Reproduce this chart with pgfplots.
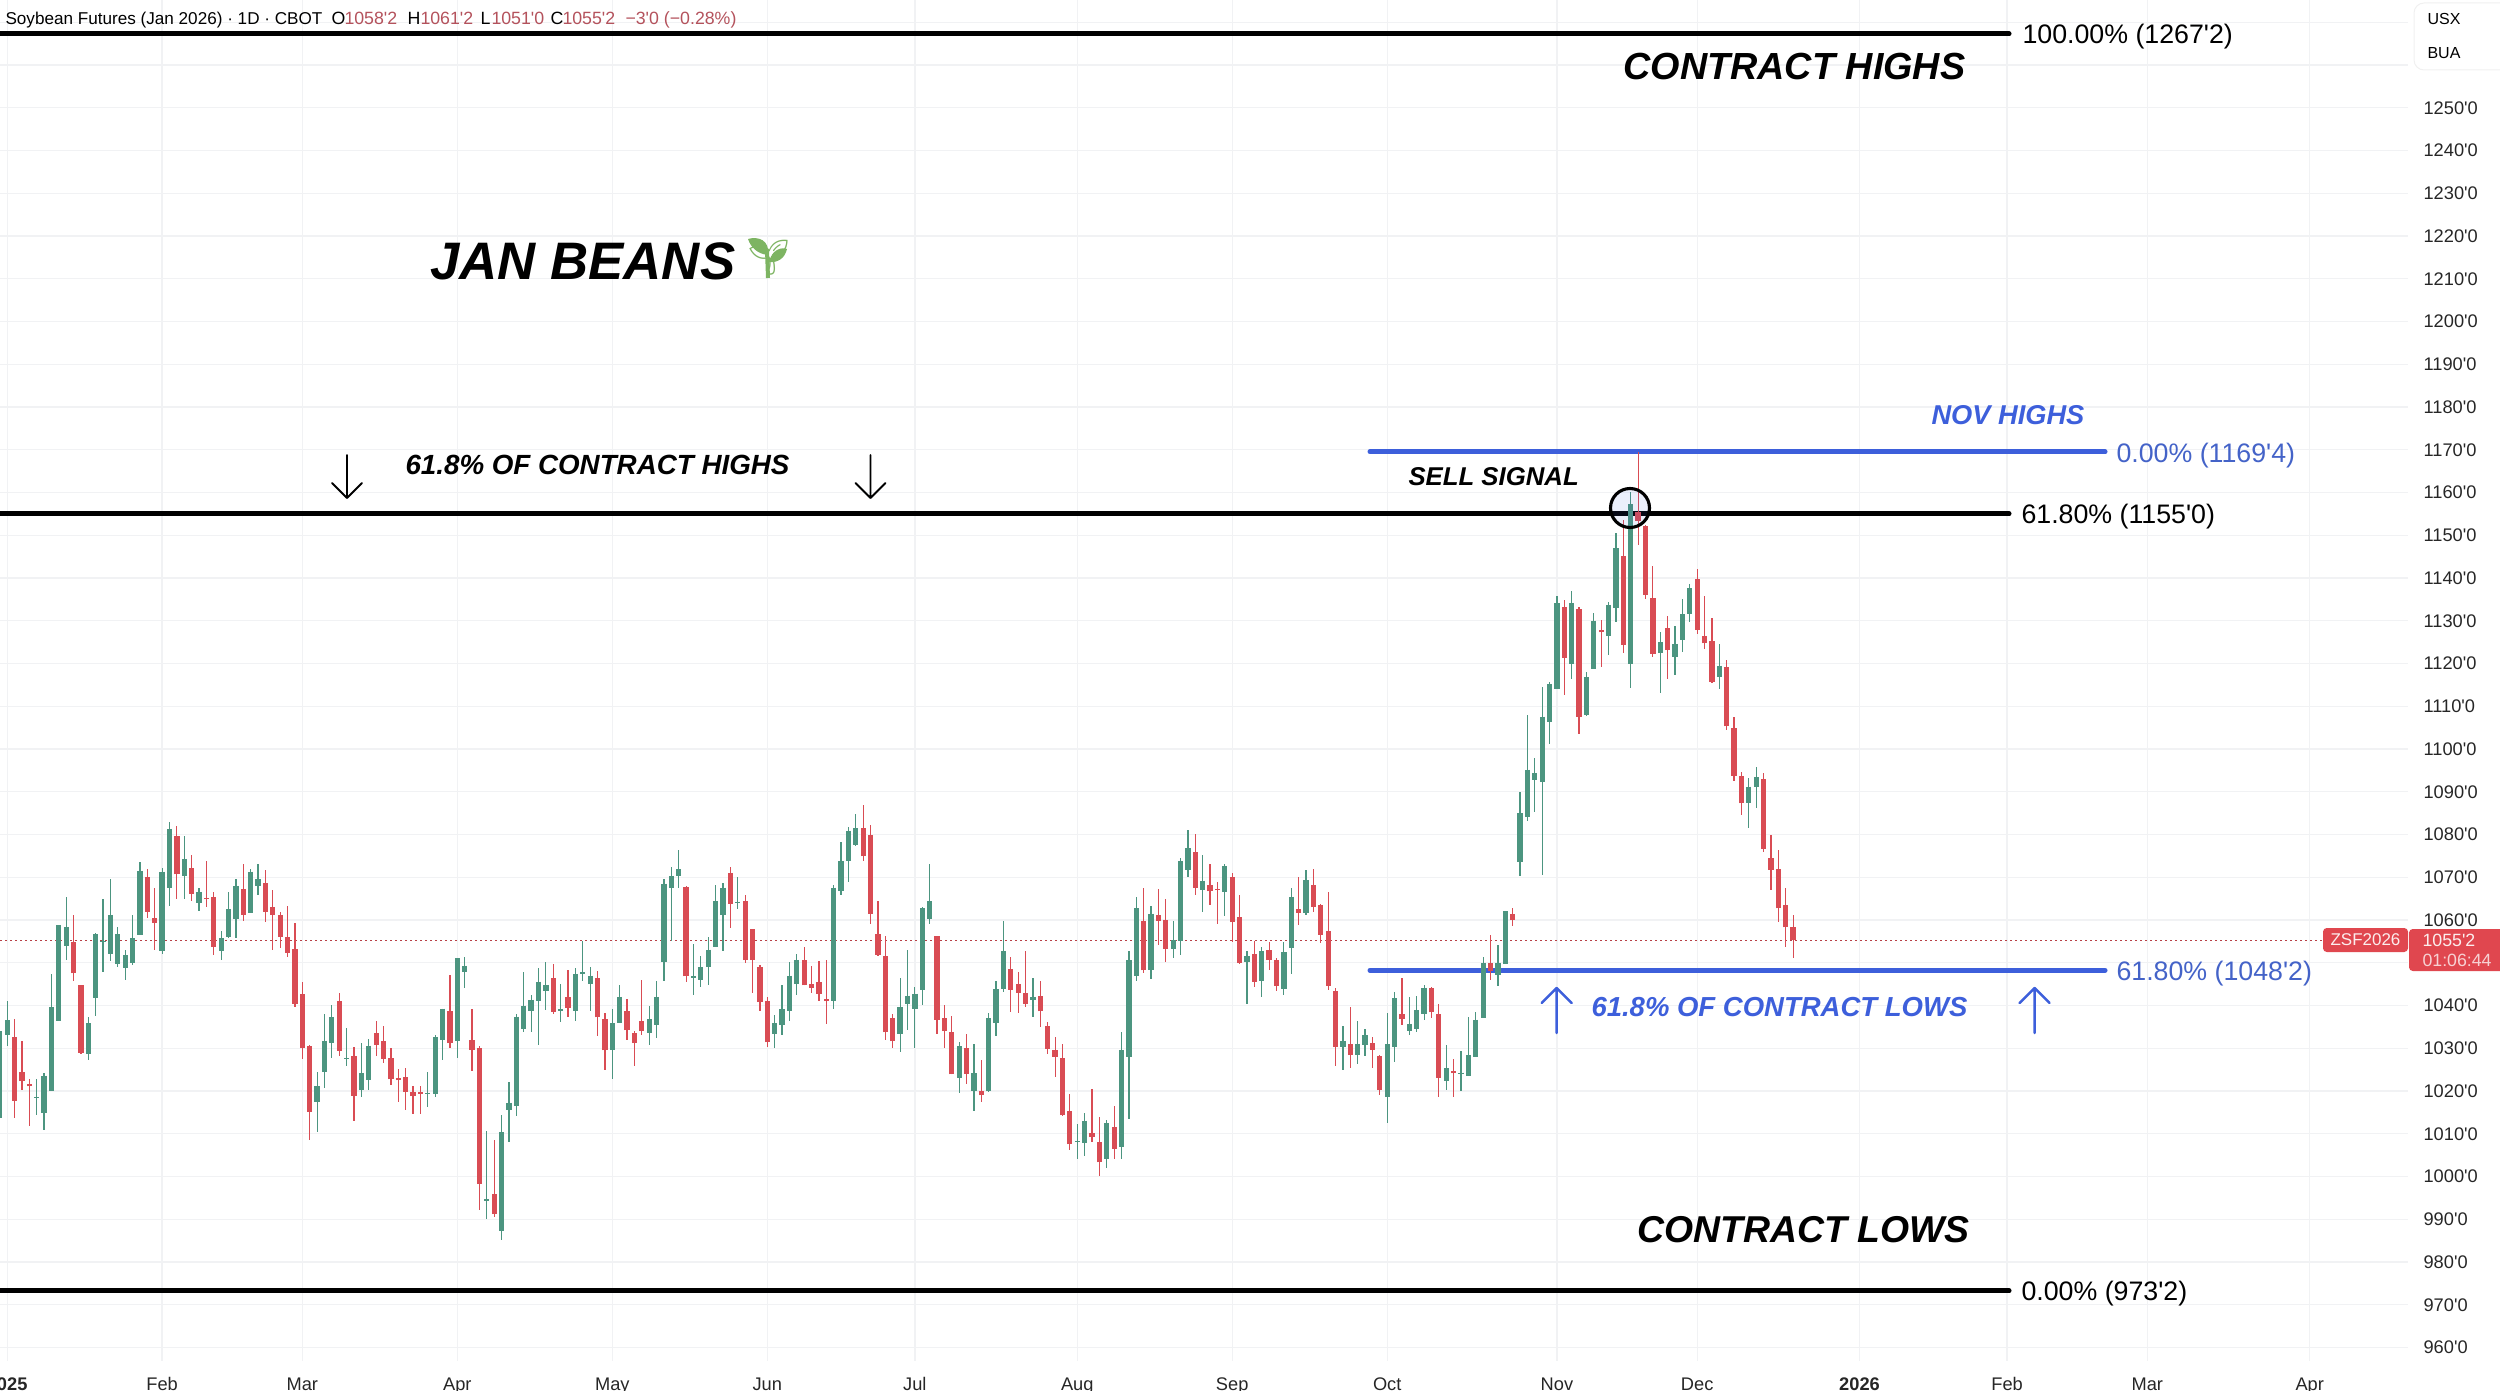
\documentclass[border=0pt]{standalone}
\usepackage{fontspec}
\usepackage{pgfplots}
\usepackage{pgfplotstable}
\pgfplotsset{compat=1.18}
\setmainfont{Liberation Sans}[Ligatures=TeXOff]
\newfontfamily\emoji{Noto Emoji}
\definecolor{cgreen}{HTML}{4C9580}
\definecolor{cred}{HTML}{D94C54}
\definecolor{cblue}{HTML}{3D5FDB}
\definecolor{cbluet}{HTML}{4463C8}
\definecolor{cgrid}{HTML}{F1F2F4}
\definecolor{chead}{HTML}{B4525C}
\definecolor{ctag}{HTML}{E0474F}
\definecolor{csprout}{HTML}{7DB462}
\pgfplotstableread{
i o h l c
1 1013.8 1034.3 1013.7 1034.0
2 1033.2 1041.0 1030.6 1036.5
6 1018.3 1022.7 1014.5 1018.5
7 1014.8 1024.1 1010.8 1023.6
8 1019.9 1047.4 1019.9 1039.7
9 1036.3 1058.8 1036.3 1058.8
10 1053.9 1065.4 1050.7 1058.4
13 1028.6 1037.3 1027.3 1035.8
14 1041.8 1057.0 1037.5 1056.7
15 1054.8 1065.0 1047.9 1055.0
16 1052.0 1069.6 1050.3 1061.2
17 1049.7 1058.4 1048.9 1056.7
18 1048.8 1053.1 1046.0 1051.7
19 1050.0 1061.2 1049.4 1055.7
20 1056.5 1073.5 1056.5 1071.5
23 1052.8 1072.2 1052.0 1071.3
24 1067.6 1082.9 1063.2 1081.3
26 1070.4 1079.6 1064.9 1074.3
28 1063.9 1067.6 1062.1 1066.6
31 1052.8 1057.5 1050.7 1055.7
32 1056.0 1066.6 1055.8 1062.6
33 1060.2 1069.6 1055.9 1068.0
35 1061.6 1071.9 1061.6 1071.3
36 1068.0 1073.2 1065.8 1069.5
44 1017.5 1024.5 1010.4 1021.1
45 1024.4 1038.1 1020.6 1031.8
46 1031.2 1040.2 1027.7 1037.3
48 1027.5 1034.7 1025.8 1027.7
50 1020.2 1031.2 1018.5 1024.1
51 1022.5 1032.2 1020.3 1030.6
59 1019.2 1024.5 1016.2 1019.6
60 1019.4 1033.1 1018.6 1032.6
61 1031.9 1039.3 1027.3 1039.3
63 1031.8 1051.1 1027.7 1051.1
64 1047.8 1051.3 1044.2 1049.3
67 994.2 1010.6 990.1 994.8
69 987.2 1014.5 985.1 1010.3
70 1015.6 1022.0 1008.1 1017.3
71 1016.6 1038.0 1014.1 1037.4
72 1034.4 1047.8 1033.8 1040.0
73 1038.6 1042.5 1033.8 1041.4
74 1041.0 1048.8 1030.8 1045.6
75 1043.3 1050.2 1039.0 1044.8
77 1038.6 1045.1 1036.2 1039.1
79 1038.6 1048.8 1036.4 1047.4
80 1047.4 1055.0 1045.7 1047.8
81 1045.1 1048.9 1038.8 1047.0
84 1029.5 1039.3 1022.8 1035.8
85 1035.9 1044.7 1035.9 1042.0
89 1033.5 1040.0 1030.8 1036.8
90 1035.5 1045.7 1032.4 1042.0
91 1050.1 1069.7 1045.8 1068.5
92 1067.5 1072.5 1055.0 1070.3
93 1070.2 1076.3 1067.6 1071.9
95 1046.5 1054.5 1042.5 1046.9
96 1046.0 1051.5 1044.3 1049.0
97 1048.9 1056.0 1044.9 1053.1
98 1053.8 1068.2 1053.8 1064.5
99 1061.1 1068.6 1052.7 1067.6
101 1063.9 1070.0 1062.6 1064.3
106 1033.4 1037.8 1030.1 1035.8
107 1035.4 1044.8 1033.2 1039.1
108 1038.6 1050.1 1036.4 1047.0
109 1045.0 1052.0 1042.5 1050.7
114 1041.0 1068.1 1039.2 1067.6
115 1066.9 1078.3 1065.8 1073.7
116 1073.7 1081.7 1069.0 1080.9
117 1077.6 1084.8 1077.4 1081.5
123 1033.3 1046.5 1029.1 1039.7
124 1040.4 1053.1 1034.2 1042.3
125 1039.2 1044.3 1030.0 1042.8
126 1043.7 1063.0 1040.2 1062.7
127 1060.2 1073.2 1059.1 1064.4
131 1023.0 1031.5 1019.5 1030.5
133 1019.9 1031.1 1015.3 1024.1
135 1019.9 1038.2 1019.7 1037.0
136 1035.9 1045.7 1032.9 1043.8
137 1043.9 1059.8 1043.2 1052.8
141 1041.3 1046.5 1037.4 1042.0
147 1008.0 1012.4 1004.2 1008.2
148 1007.8 1014.9 1004.7 1013.1
151 1004.0 1013.3 1001.9 1012.5
153 1006.8 1033.8 1004.0 1029.5
154 1028.0 1052.8 1013.4 1050.6
155 1047.0 1065.4 1045.7 1062.7
157 1048.4 1063.2 1046.3 1061.5
160 1053.3 1059.8 1051.1 1055.3
161 1055.2 1074.4 1051.7 1073.7
162 1071.8 1081.0 1070.0 1076.8
164 1067.0 1075.3 1061.8 1069.2
167 1066.5 1073.0 1060.9 1072.6
170 1050.2 1052.7 1040.3 1051.5
172 1045.7 1053.7 1042.1 1052.8
175 1043.9 1054.8 1042.4 1052.5
176 1053.4 1067.6 1047.4 1065.4
178 1061.6 1071.8 1061.2 1069.3
183 1030.3 1035.3 1024.9 1031.7
185 1028.4 1036.3 1026.3 1031.1
186 1030.8 1034.4 1028.2 1033.0
189 1018.7 1038.2 1012.6 1030.9
190 1030.3 1043.2 1026.7 1041.7
192 1034.0 1041.9 1033.2 1035.7
193 1034.5 1042.3 1033.7 1038.9
194 1038.0 1044.9 1036.7 1044.2
197 1022.4 1030.7 1020.2 1025.3
199 1024.2 1029.4 1020.0 1024.3
200 1023.6 1037.2 1023.6 1028.4
201 1027.9 1038.5 1027.9 1036.7
202 1037.1 1051.4 1037.1 1050.0
204 1047.2 1054.1 1044.6 1050.0
205 1049.8 1062.0 1049.8 1062.0
207 1073.6 1089.9 1070.3 1085.0
208 1084.1 1108.0 1083.1 1095.2
209 1092.8 1097.9 1085.2 1094.4
210 1092.3 1114.5 1070.5 1107.6
211 1106.4 1115.7 1101.2 1115.2
212 1114.0 1135.7 1114.0 1134.1
214 1119.9 1137.0 1116.3 1134.1
216 1108.0 1118.1 1107.8 1116.8
217 1118.8 1131.9 1118.6 1130.0
219 1126.4 1134.3 1122.0 1133.7
220 1132.9 1150.5 1129.7 1147.0
222 1119.9 1160.1 1114.2 1157.2
226 1122.4 1127.4 1113.2 1125.0
228 1121.6 1128.7 1117.3 1124.6
229 1125.4 1135.2 1122.8 1131.5
230 1131.5 1138.6 1129.7 1137.6
234 1116.9 1124.5 1114.1 1119.5
238 1087.4 1093.2 1081.5 1091.2
239 1091.0 1095.9 1086.3 1093.4
}\greendata
\pgfplotstableread{
i o h l c
3 1032.6 1036.8 1013.7 1017.7
4 1024.5 1031.8 1020.3 1022.3
5 1021.7 1022.7 1011.8 1021.1
11 1054.9 1061.2 1045.7 1047.5
12 1044.7 1044.7 1028.7 1029.0
21 1070.1 1071.9 1060.5 1061.9
22 1060.5 1067.6 1053.1 1059.4
25 1079.7 1082.1 1064.9 1070.7
27 1072.2 1075.3 1064.4 1066.2
29 1065.2 1073.7 1063.1 1064.9
30 1065.4 1066.5 1051.7 1053.8
34 1067.3 1073.2 1059.8 1061.2
37 1068.7 1071.8 1059.5 1061.9
38 1063.1 1067.1 1052.9 1061.2
39 1061.2 1061.8 1053.5 1056.0
40 1056.1 1063.2 1051.3 1052.3
41 1053.3 1059.3 1039.6 1040.4
42 1042.8 1045.6 1027.5 1030.0
43 1030.5 1030.7 1008.5 1015.2
47 1041.0 1042.9 1028.1 1029.4
49 1028.3 1030.3 1012.9 1018.9
52 1033.6 1036.3 1028.3 1030.8
53 1031.8 1035.1 1026.6 1027.5
54 1027.7 1030.0 1021.3 1022.7
55 1023.0 1025.2 1017.4 1022.5
56 1023.3 1025.4 1015.6 1019.8
57 1019.8 1021.1 1014.6 1018.8
58 1019.7 1021.1 1014.6 1019.4
62 1038.8 1047.1 1030.1 1031.2
65 1031.9 1039.2 1024.6 1029.7
66 1030.1 1030.5 992.1 998.2
68 996.0 1008.6 990.5 991.2
76 1046.5 1049.6 1037.9 1038.5
78 1042.0 1048.4 1037.3 1039.5
82 1046.5 1048.0 1032.8 1037.2
83 1036.9 1038.2 1025.0 1029.5
86 1038.6 1041.5 1032.0 1034.2
87 1033.6 1034.0 1025.8 1031.2
88 1036.3 1046.0 1033.2 1034.0
94 1067.7 1067.9 1045.5 1046.8
100 1071.0 1072.5 1058.1 1063.8
102 1064.5 1065.9 1049.9 1050.6
103 1058.0 1058.0 1042.9 1050.6
104 1048.9 1049.5 1038.6 1040.8
105 1041.0 1042.1 1030.2 1031.4
110 1050.7 1053.8 1044.7 1044.7
111 1045.1 1049.3 1042.9 1044.2
112 1045.6 1050.3 1041.1 1042.7
113 1041.5 1050.7 1035.7 1041.0
118 1081.5 1087.0 1073.7 1074.9
119 1080.0 1082.3 1059.1 1061.5
120 1056.7 1064.5 1051.7 1051.9
121 1051.6 1056.2 1032.0 1033.7
122 1037.0 1038.0 1030.0 1031.6
128 1056.3 1056.3 1033.3 1036.7
129 1037.0 1040.1 1030.1 1034.0
130 1033.7 1037.5 1023.9 1023.9
132 1030.1 1033.3 1021.7 1024.0
134 1020.0 1027.3 1017.4 1019.0
138 1048.5 1051.3 1038.4 1043.7
139 1045.1 1047.8 1038.2 1042.9
140 1042.9 1052.8 1039.7 1040.4
142 1042.3 1045.7 1034.9 1038.6
143 1035.1 1036.1 1028.7 1029.9
144 1029.6 1032.6 1023.2 1028.0
145 1027.7 1031.0 1014.1 1014.3
146 1015.3 1019.4 1006.1 1007.5
149 1010.2 1020.5 1008.1 1009.2
150 1008.1 1013.9 1000.2 1003.3
152 1011.7 1016.6 1004.2 1006.5
156 1059.8 1067.6 1047.6 1048.2
158 1061.1 1067.2 1054.1 1059.8
159 1060.0 1064.9 1050.2 1053.3
163 1076.0 1080.2 1065.8 1067.6
165 1068.2 1073.2 1063.6 1066.7
166 1067.3 1069.0 1059.1 1067.0
168 1070.1 1071.0 1054.8 1059.5
169 1060.8 1065.9 1049.7 1049.9
171 1052.1 1055.2 1044.3 1045.5
173 1053.1 1054.8 1048.4 1050.6
174 1050.6 1051.1 1043.3 1044.6
177 1062.6 1070.0 1058.9 1061.6
179 1068.2 1072.0 1061.8 1063.0
180 1063.6 1063.8 1054.6 1056.5
181 1057.5 1066.5 1043.6 1044.6
182 1043.4 1044.0 1025.9 1030.3
184 1031.1 1039.6 1025.4 1028.4
187 1031.2 1032.7 1025.5 1029.6
188 1028.2 1028.4 1019.0 1020.2
191 1038.0 1046.4 1035.5 1036.8
195 1044.1 1044.4 1037.0 1038.4
196 1038.0 1040.3 1018.6 1023.1
198 1024.7 1027.5 1018.6 1024.1
203 1050.0 1056.4 1046.0 1048.1
206 1061.4 1062.9 1058.7 1060.0
213 1133.2 1134.9 1112.6 1121.4
215 1132.7 1133.1 1103.5 1107.5
218 1127.9 1130.2 1119.2 1127.3
221 1145.2 1153.6 1122.4 1124.4
223 1155.5 1169.5 1147.7 1153.3
224 1152.2 1152.4 1135.0 1136.1
225 1135.4 1142.7 1121.5 1122.3
227 1128.3 1131.0 1116.3 1123.2
231 1139.8 1142.1 1126.9 1127.9
232 1126.5 1135.7 1123.4 1124.7
233 1125.2 1130.6 1115.6 1115.7
235 1119.2 1120.9 1104.5 1105.3
236 1104.9 1107.5 1092.4 1093.7
237 1093.7 1094.7 1084.6 1087.3
240 1092.9 1094.4 1075.8 1076.7
241 1074.5 1080.0 1067.1 1071.8
242 1072.0 1076.3 1059.6 1062.7
243 1063.5 1067.5 1053.6 1058.3
244 1058.25 1061.25 1051.0 1055.25
}\reddata
\begin{document}
\begin{tikzpicture}[x=0.4pt,y=-0.4pt]
\useasboundingbox (0,0) rectangle (2500,1391);
\begin{axis}[
  at={(0,0)}, anchor=north west,
  scale only axis, width=963.2pt, height=544.4pt,
  xmin=1.0325, xmax=327.33, ymin=956.84, ymax=1275.2,
  axis line style={draw=none},
  major tick length=0pt,
  tick style={draw=none},
  grid=major,
  grid style={cgrid, line width=0.5pt},
  xtick={2,23,42,63,84,105,125,147,168,189,212,231,253,273,292,314},
  xticklabels={\textbf{2025},Feb,Mar,Apr,May,Jun,Jul,Aug,Sep,Oct,Nov,Dec,\textbf{2026},Feb,Mar,Apr},
  ytick={960,970,...,1270},
  yticklabels={960'0,970'0,980'0,990'0,1000'0,1010'0,1020'0,1030'0,1040'0,{},1060'0,1070'0,1080'0,1090'0,1100'0,1110'0,1120'0,1130'0,1140'0,1150'0,1160'0,1170'0,1180'0,1190'0,1200'0,1210'0,1220'0,1230'0,1240'0,1250'0,{},{}},
  yticklabel pos=right,
  yticklabel style={font=\fontsize{7.3}{9}\selectfont, color=black!85, inner sep=0pt, anchor=west, xshift=6pt},
  xticklabel style={font=\fontsize{7.3}{9}\selectfont, color=black!85, inner sep=0pt, anchor=base, yshift=-11.6pt},
]
% last price line
\addplot[cred!85!black, line width=0.45pt, dash pattern=on 0.6pt off 1.4pt] coordinates {(1.0325,1055.25) (315.7,1055.25)};
% fib lines
\addplot[black, line width=2pt, line cap=round] coordinates {(1.0325,1267.25) (273.26,1267.25)};
\addplot[black, line width=2pt, line cap=round] coordinates {(1.0325,1155) (273.26,1155)};
\addplot[black, line width=2pt, line cap=round] coordinates {(1.0325,973.25) (273.26,973.25)};
\addplot[cblue, line width=2pt, line cap=round] coordinates {(186.67,1169.5) (286.27,1169.5)};
\addplot[cblue, line width=2pt, line cap=round] coordinates {(186.67,1048.25) (286.27,1048.25)};
% wicks
\addplot[draw=none, no markers, error bars/.cd, y dir=both, y explicit, error mark=none,
  error bar style={draw=cgreen, line width=0.48pt}]
  table[x=i, y=c, y error plus expr=\thisrow{h}-\thisrow{c}, y error minus expr=\thisrow{c}-\thisrow{l}] {\greendata};
\addplot[draw=none, no markers, error bars/.cd, y dir=both, y explicit, error mark=none,
  error bar style={draw=cred, line width=0.48pt}]
  table[x=i, y=c, y error plus expr=\thisrow{h}-\thisrow{c}, y error minus expr=\thisrow{c}-\thisrow{l}] {\reddata};
% bodies
\addplot[draw=none, no markers, error bars/.cd, y dir=both, y explicit, error mark=none,
  error bar style={draw=cgreen, line width=2.1pt}]
  table[x=i, y=c, y error plus expr=0, y error minus expr=\thisrow{c}-\thisrow{o}] {\greendata};
\addplot[draw=none, no markers, error bars/.cd, y dir=both, y explicit, error mark=none,
  error bar style={draw=cred, line width=2.1pt}]
  table[x=i, y=c, y error plus expr=\thisrow{o}-\thisrow{c}, y error minus expr=0] {\reddata};
\end{axis}
% signal circle
\draw[black, line width=1.25pt, fill=cblue, fill opacity=0.10] (1630,508) circle (19.5);
% arrows
\draw[black, line width=0.75pt, line cap=round, line join=round] (347,455)--(347,498) (332,483)--(347,498)--(362,483);
\draw[black, line width=0.75pt, line cap=round, line join=round] (870.5,455)--(870.5,498) (855.5,483)--(870.5,498)--(885.5,483);
\draw[cblue, line width=1pt, line cap=round, line join=round] (1556.7,1033)--(1556.7,988) (1541.7,1003)--(1556.7,988)--(1571.7,1003);
\draw[cblue, line width=1pt, line cap=round, line join=round] (2034.5,1033)--(2034.5,988) (2019.5,1003)--(2034.5,988)--(2049.5,1003);
% annotations
\def\bi{\bfseries\itshape}
\tikzset{t/.style={inner sep=0pt, anchor=west}}
\node[t, font=\bi\fontsize{21.1}{24}\selectfont] at (430,261) {JAN BEANS};
\fill[csprout] (748,239) .. controls (758,236) and (770,240) .. (768,255) .. controls (758,254) and (751,248) .. (748,239);
\fill[csprout] (787,249) .. controls (782,247) and (772,249) .. (769,262) .. controls (778,263) and (785,258) .. (787,249);
\draw[csprout, line width=1.6pt] (767,250) -- (768,278);
\node[t, font=\fontsize{13.8}{16}\selectfont, text=csprout] at (746,258) {\emoji 🌱};
\node[t, font=\bi\fontsize{15.1}{18}\selectfont] at (1623,66.5) {CONTRACT HIGHS};
\node[t, font=\bi\fontsize{14.95}{18}\selectfont] at (1637,1229.5) {CONTRACT LOWS};
\node[t, font=\bi\fontsize{11.1}{14}\selectfont] at (405,465) {61.8\% OF CONTRACT HIGHS};
\node[t, font=\bi\fontsize{11}{14}\selectfont, text=cblue] at (1591,1007.5) {61.8\% OF CONTRACT LOWS};
\node[t, font=\bi\fontsize{10.3}{13}\selectfont] at (1408,476.5) {SELL SIGNAL};
\node[t, font=\bi\fontsize{10.9}{13}\selectfont, text=cblue] at (1931,415) {NOV HIGHS};
% fib labels
\tikzset{f/.style={inner sep=0pt, anchor=west, font=\fontsize{10.7}{13}\selectfont}}
\node[f] at (2022,37) {100.00\% (1267'2)};
\node[f] at (2021,517) {61.80\% (1155'0)};
\node[f] at (2021,1294) {0.00\% (973'2)};
\node[f, text=cbluet] at (2116,456) {0.00\% (1169'4)};
\node[f, text=cbluet] at (2116,974) {61.80\% (1048'2)};
% header
\tikzset{h/.style={inner sep=0pt, anchor=base west, font=\fontsize{7.1}{9}\selectfont}}
\node[h, font=\fontsize{6.85}{9}\selectfont] at (5,24.5) {Soybean Futures (Jan 2026) · 1D · CBOT};
\node[h] at (331,24.5) {O}; \node[h, text=chead] at (344,24.5) {1058'2};
\node[h] at (407,24.5) {H}; \node[h, text=chead] at (420,24.5) {1061'2};
\node[h] at (480,24.5) {L}; \node[h, text=chead] at (491,24.5) {1051'0};
\node[h] at (550,24.5) {C}; \node[h, text=chead] at (562,24.5) {1055'2};
\node[h, text=chead] at (625,24.5) {−3'0 (−0.28\%)};
% unit box
\draw[black!6, line width=0.4pt, fill=white, rounded corners=4] (2414,3) rectangle (2510,70);
\node[t, font=\fontsize{6.4}{8}\selectfont] at (2427,19) {USX};
\node[t, font=\fontsize{6.4}{8}\selectfont] at (2427,53) {BUA};
% price tags
\fill[ctag, rounded corners=1.5] (2323,928) rectangle (2408,952);
\fill[ctag, rounded corners=1.5] (2409,929) rectangle (2510,971);
\node[t, font=\fontsize{6.8}{8}\selectfont, text=white!90!ctag] at (2330,940) {ZSF2026};
\node[t, font=\fontsize{7.1}{9}\selectfont, text=white!90!ctag] at (2422,940) {1055'2};
\node[t, font=\fontsize{7.1}{9}\selectfont, text=white!75!ctag] at (2422,960) {01:06:44};
\end{tikzpicture}
\end{document}
